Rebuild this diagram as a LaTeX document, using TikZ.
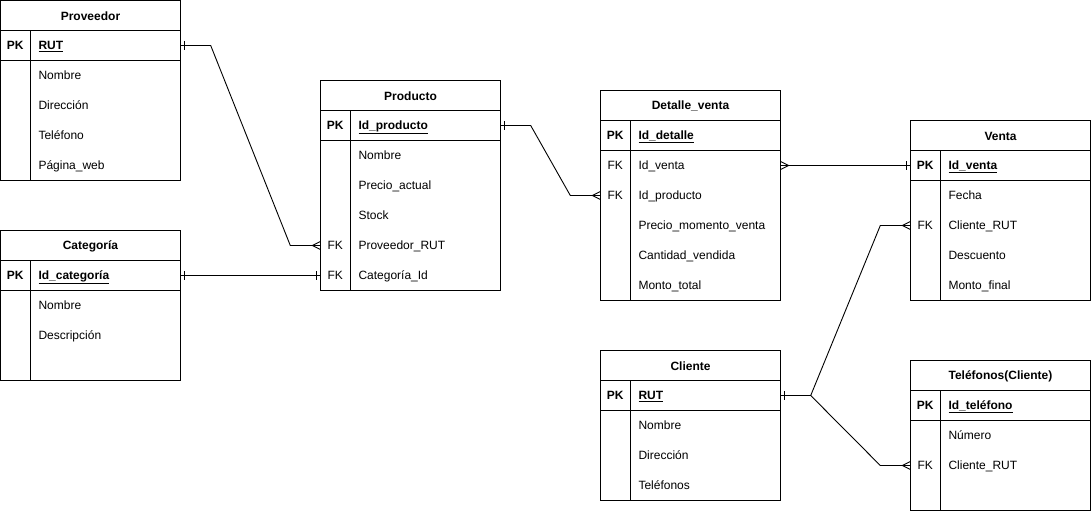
\documentclass[tikz,border=0pt]{standalone}
\usepackage{fontspec}
\setmainfont{Liberation Sans}
\usetikzlibrary{calc}

\tikzset{
  tline/.style={draw=black, line width=0.9pt},
  conn/.style={draw=black, line width=0.9pt},
  tblbox/.style={rectangle, draw=black, fill=white, line width=0.9pt,
    minimum width=180pt, inner sep=0pt},
  rowbox/.style={rectangle, minimum width=180pt, minimum height=30pt, inner sep=0pt},
  hdrtxt/.style={font=\fontsize{12}{14}\selectfont\bfseries, inner sep=0pt},
  keytxt/.style={font=\fontsize{12}{14}\selectfont, inner sep=0pt,
    text height=9pt, text depth=3pt, yshift=-0.8pt},
  fldtxt/.style={font=\fontsize{12}{14}\selectfont, anchor=west, inner sep=0pt,
    text height=9pt, text depth=3pt, yshift=-0.8pt},
}

% table frame: name, x, y, height, title
\newcommand\ertable[5]{%
  \node[tblbox, minimum height=#4pt] (#1) at (#2+90,#3+#4/2) {};
  \node[hdrtxt] (#1-t) at (#2+90,#3+15.5) {#5};
  \draw[tline] ([yshift=-30pt]#1.north west) -- ([yshift=-30pt]#1.north east);
  \draw[tline] ([yshift=-60pt]#1.north west) -- ([yshift=-60pt]#1.north east);
  \draw[tline] ([shift={(30pt,-30pt)}]#1.north west) -- ([xshift=30pt]#1.south west);
}
% field row: name, x, row top, key, text
\newcommand\erfield[5]{%
  \node[rowbox] (#1) at (#2+90,#3+15) {};
  \node[keytxt] (#1-k) at ([xshift=15pt]#1.west) {#4};
  \node[fldtxt] (#1-f) at ([xshift=38pt]#1.west) {#5};
}
\newcommand\pkf[1]{\textbf{\underline{#1}}}

% cardinality marks at a table edge; #2 = +1 outward to the right, -1 to the left
\newcommand\markone[2]{%
  \draw[conn] ([shift={(#2*4pt,4.5pt)}]#1) -- ([shift={(#2*4pt,-4.5pt)}]#1);}
\newcommand\markmany[2]{%
  \draw[conn] ([yshift=4pt]#1) -- ([xshift=#2*8pt]#1) -- ([yshift=-4pt]#1);}

\begin{document}
\begin{tikzpicture}[x=1pt,y=-1pt]
\useasboundingbox[fill=white] (-0.5,-0.5) rectangle (1090.5,510.5);

% Proveedor
\ertable{prov}{0}{0}{180}{Proveedor}
\erfield{prov-rut}{0}{30}{\textbf{PK}}{\pkf{RUT}}
\erfield{prov-nom}{0}{60}{}{Nombre}
\erfield{prov-dir}{0}{90}{}{Dirección}
\erfield{prov-tel}{0}{120}{}{Teléfono}
\erfield{prov-web}{0}{150}{}{Página\_web}

% Categoría
\ertable{cat}{0}{230}{150}{Categoría}
\erfield{cat-id}{0}{260}{\textbf{PK}}{\pkf{Id\_categoría}}
\erfield{cat-nom}{0}{290}{}{Nombre}
\erfield{cat-des}{0}{320}{}{Descripción}

% Producto
\ertable{prod}{320}{80}{210}{Producto}
\erfield{prod-id}{320}{110}{\textbf{PK}}{\pkf{Id\_producto}}
\erfield{prod-nom}{320}{140}{}{Nombre}
\erfield{prod-pre}{320}{170}{}{Precio\_actual}
\erfield{prod-stk}{320}{200}{}{Stock}
\erfield{prod-prv}{320}{230}{FK}{Proveedor\_RUT}
\erfield{prod-cat}{320}{260}{FK}{Categoría\_Id}

% Detalle_venta
\ertable{det}{600}{90}{210}{Detalle\_venta}
\erfield{det-id}{600}{120}{\textbf{PK}}{\pkf{Id\_detalle}}
\erfield{det-ven}{600}{150}{FK}{Id\_venta}
\erfield{det-prod}{600}{180}{FK}{Id\_producto}
\erfield{det-pre}{600}{210}{}{Precio\_momento\_venta}
\erfield{det-can}{600}{240}{}{Cantidad\_vendida}
\erfield{det-mon}{600}{270}{}{Monto\_total}

% Venta
\ertable{ven}{910}{120}{180}{Venta}
\erfield{ven-id}{910}{150}{\textbf{PK}}{\pkf{Id\_venta}}
\erfield{ven-fec}{910}{180}{}{Fecha}
\erfield{ven-cli}{910}{210}{FK}{Cliente\_RUT}
\erfield{ven-des}{910}{240}{}{Descuento}
\erfield{ven-mon}{910}{270}{}{Monto\_final}

% Cliente
\ertable{cli}{600}{350}{150}{Cliente}
\erfield{cli-rut}{600}{380}{\textbf{PK}}{\pkf{RUT}}
\erfield{cli-nom}{600}{410}{}{Nombre}
\erfield{cli-dir}{600}{440}{}{Dirección}
\erfield{cli-tel}{600}{470}{}{Teléfonos}

% Teléfonos(Cliente)
\ertable{tel}{910}{360}{150}{Teléfonos(Cliente)}
\erfield{tel-id}{910}{390}{\textbf{PK}}{\pkf{Id\_teléfono}}
\erfield{tel-num}{910}{420}{}{Número}
\erfield{tel-cli}{910}{450}{FK}{Cliente\_RUT}

% relationships
\draw[conn] (prov-rut.east) -- ([xshift=30pt]prov-rut.east)
  -- ([xshift=-30pt]prod-prv.west) -- (prod-prv.west);
\markone{prov-rut.east}{1}
\markmany{prod-prv.west}{-1}

\draw[conn] (cat-id.east) -- (prod-cat.west);
\markone{cat-id.east}{1}
\markone{prod-cat.west}{-1}

\draw[conn] (prod-id.east) -- ([xshift=30pt]prod-id.east)
  -- ([xshift=-30pt]det-prod.west) -- (det-prod.west);
\markone{prod-id.east}{1}
\markmany{det-prod.west}{-1}

\draw[conn] (det-ven.east) -- (ven-id.west);
\markmany{det-ven.east}{1}
\markone{ven-id.west}{-1}

\draw[conn] (cli-rut.east) -- ([xshift=30pt]cli-rut.east)
  -- ([xshift=-30pt]ven-cli.west) -- (ven-cli.west);
\draw[conn] ([xshift=30pt]cli-rut.east)
  -- ([xshift=-30pt]tel-cli.west) -- (tel-cli.west);
\markone{cli-rut.east}{1}
\markmany{ven-cli.west}{-1}
\markmany{tel-cli.west}{-1}
\end{tikzpicture}
\end{document}
